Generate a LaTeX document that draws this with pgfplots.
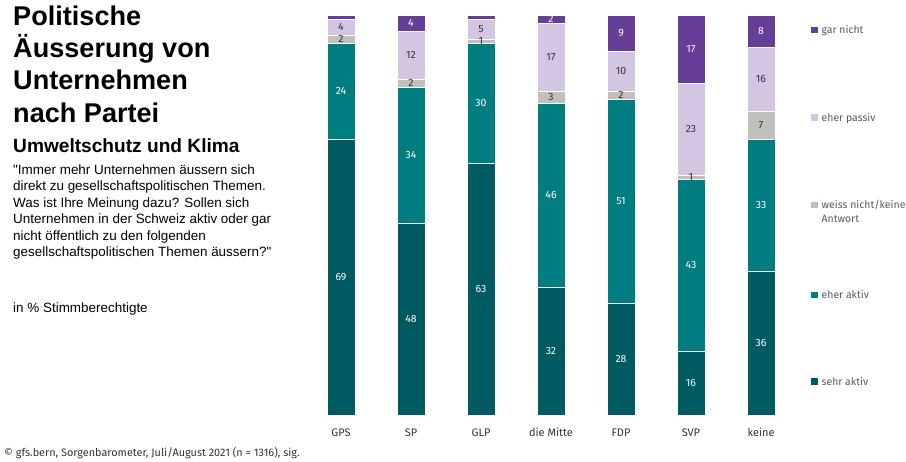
\documentclass[border=0pt]{standalone}
\usepackage{pgfplots}
\pgfplotsset{compat=1.18}
\usepackage{pgfplotstable}
\usepackage{fontspec}
\setmainfont{Fira Sans}
\newfontfamily\arial{Liberation Sans}
\definecolor{cgar}{RGB}{101,62,151}
\definecolor{cpas}{RGB}{211,198,227}
\definecolor{cwn}{RGB}{192,192,188}
\definecolor{cea}{RGB}{0,125,128}
\definecolor{csa}{RGB}{0,90,98}
\definecolor{ctxt}{RGB}{51,51,51}
\definecolor{cleg}{RGB}{80,90,100}

\pgfplotstableread{
x sehr eher weiss passiv gar glab
0 69 24 2 4 1 {}
1 48 34 2 12 4 4
2 63 30 1 5 1 {}
3 32 46 3 17 2 2
4 28 51 2 10 9 9
5 16 43 1 23 17 17
6 36 33 7 16 8 8
}\data

\begin{document}
\begin{tikzpicture}
\path[use as bounding box] (0,0) rectangle (906bp,-462bp);
\begin{axis}[
  at={(306bp,-415bp)}, anchor=south west,
  scale only axis, width=490bp, height=400bp,
  xmin=-0.5, xmax=6.5, ymin=0, ymax=100,
  ybar stacked, bar width=28bp,
  axis line style={draw=none},
  ytick=\empty,
  xtick=data, xticklabels={GPS,SP,GLP,die Mitte,FDP,SVP,keine},
  major tick length=0pt,
  xticklabel style={font=\fontsize{11}{13}\selectfont, text=ctxt, anchor=base, yshift=-21bp},
  /pgf/number format/assume math mode=true,
  nodes near coords,
  every node near coord/.append style={anchor=center, font=\fontsize{10.5}{12}\selectfont},
  every axis plot/.append style={draw=white, line width=0.5bp},
]
\addplot[fill=csa, point meta=explicit, every node near coord/.append style={text=white}] table[x=x,y=sehr,meta=sehr]{\data};
\addplot[fill=cea, point meta=explicit, every node near coord/.append style={text=white}] table[x=x,y=eher,meta=eher]{\data};
\addplot[fill=cwn, point meta=explicit, every node near coord/.append style={text=ctxt}] table[x=x,y=weiss,meta=weiss]{\data};
\addplot[fill=cpas, point meta=explicit, every node near coord/.append style={text=ctxt}] table[x=x,y=passiv,meta=passiv]{\data};
\addplot[fill=cgar, point meta=explicit symbolic, nodes near coords={\pgfplotspointmeta}, every node near coord/.append style={text=white}] table[x=x,y=gar,meta=glab]{\data};
\end{axis}

% title block
\begin{scope}[every node/.style={anchor=base west, inner sep=0pt, text=black}]
\node[font=\arial\bfseries\fontsize{27.2}{32}\selectfont] at (13bp,-25bp) {Politische};
\node[font=\arial\bfseries\fontsize{27.2}{32}\selectfont] at (13bp,-57bp) {Äusserung von};
\node[font=\arial\bfseries\fontsize{27.2}{32}\selectfont] at (13bp,-89.5bp) {Unternehmen};
\node[font=\arial\bfseries\fontsize{27.2}{32}\selectfont] at (13bp,-122bp) {nach Partei};
\node[font=\arial\bfseries\fontsize{19.2}{22}\selectfont] at (13bp,-152bp) {Umweltschutz und Klima};
\node[font=\arial\fontsize{13.5}{16}\selectfont] at (13bp,-174bp) {"Immer mehr Unternehmen äussern sich};
\node[font=\arial\fontsize{13.5}{16}\selectfont] at (13bp,-190.5bp) {direkt zu gesellschaftspolitischen Themen.};
\node[font=\arial\fontsize{13.5}{16}\selectfont] at (13bp,-207bp) {Was ist Ihre Meinung dazu? Sollen sich};
\node[font=\arial\fontsize{13.5}{16}\selectfont] at (13bp,-223.5bp) {Unternehmen in der Schweiz aktiv oder gar};
\node[font=\arial\fontsize{13.5}{16}\selectfont] at (13bp,-240bp) {nicht öffentlich zu den folgenden};
\node[font=\arial\fontsize{13.5}{16}\selectfont] at (13bp,-256.5bp) {gesellschaftspolitischen Themen äussern?"};
\node[font=\arial\fontsize{13.5}{16}\selectfont] at (13bp,-312.5bp) {in \% Stimmberechtigte};
\node[font=\fontsize{10.9}{12}\selectfont, text=ctxt] at (4bp,-456.5bp) {© gfs.bern, Sorgenbarometer, Juli/August 2021 (n = 1316), sig.};
\end{scope}

% legend
\begin{scope}[every node/.style={anchor=base west, inner sep=0pt, text=cleg, font=\fontsize{10.5}{12}\selectfont}]
\fill[cgar] (811bp,-26.5bp) rectangle (818bp,-33.3bp);
\node at (821.5bp,-33.3bp) {gar nicht};
\fill[cpas] (811bp,-114.2bp) rectangle (818bp,-121bp);
\node at (821.5bp,-121bp) {eher passiv};
\fill[cwn] (811bp,-201.5bp) rectangle (818bp,-208.3bp);
\node at (821.5bp,-208.3bp) {weiss nicht/keine};
\node at (821.5bp,-222.5bp) {Antwort};
\fill[cea] (811bp,-291.5bp) rectangle (818bp,-298.3bp);
\node at (821.5bp,-298.3bp) {eher aktiv};
\fill[csa] (811bp,-378.2bp) rectangle (818bp,-385bp);
\node at (821.5bp,-385bp) {sehr aktiv};
\end{scope}
\end{tikzpicture}
\end{document}
